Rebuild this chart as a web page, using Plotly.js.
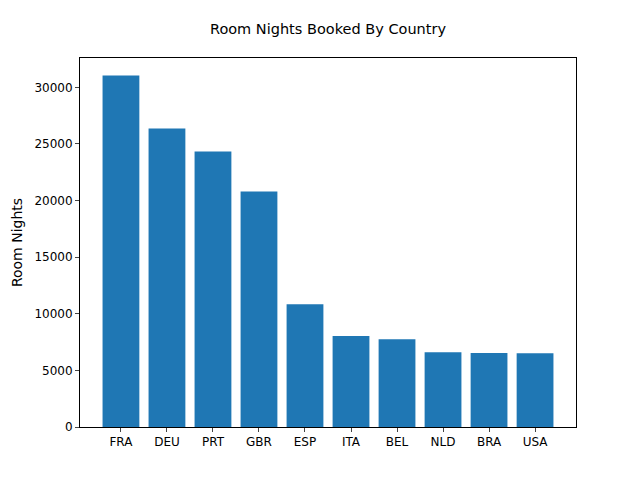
<!DOCTYPE html>
<html><head><script src="https://cdn.plot.ly/plotly-3.0.1.min.js"></script></head>
<body style="margin:0">
<div id="c" style="width:640px;height:480px"></div>
<script>
const countries = ["FRA","DEU","PRT","GBR","ESP","ITA","BEL","NLD","BRA","USA"];
const roomNights = [31040,26370,24340,20810,10850,8030,7760,6610,6530,6520];
Plotly.newPlot('c', [{
  type:'bar', x:countries.map((_,i)=>i), y:roomNights, width:0.8,
  marker:{color:'#1f77b4'}
}], {
  width:640, height:480, paper_bgcolor:'white', plot_bgcolor:'white',
  margin:{l:80,r:64,t:58,b:53},
  font:{family:'DejaVu Sans', size:12, color:'black'},
  title:{text:'Room Nights Booked By Country', x:0.5, xref:'paper', y:0.93, yanchor:'bottom', font:{size:14.5}},
  xaxis:{range:[-0.89,9.89], tickvals:countries.map((_,i)=>i), ticktext:countries,
    showline:true, mirror:true, linecolor:'black', ticks:'outside', ticklen:4, showgrid:false, zeroline:false},
  yaxis:{range:[0,32592], tickvals:[0,5000,10000,15000,20000,25000,30000], tickformat:'d',
    showline:true, mirror:true, linecolor:'black', ticks:'outside', ticklen:4, showgrid:false, zeroline:false,
    title:{text:'Room Nights', standoff:8}}
}, {staticPlot:true});
</script></body></html>
